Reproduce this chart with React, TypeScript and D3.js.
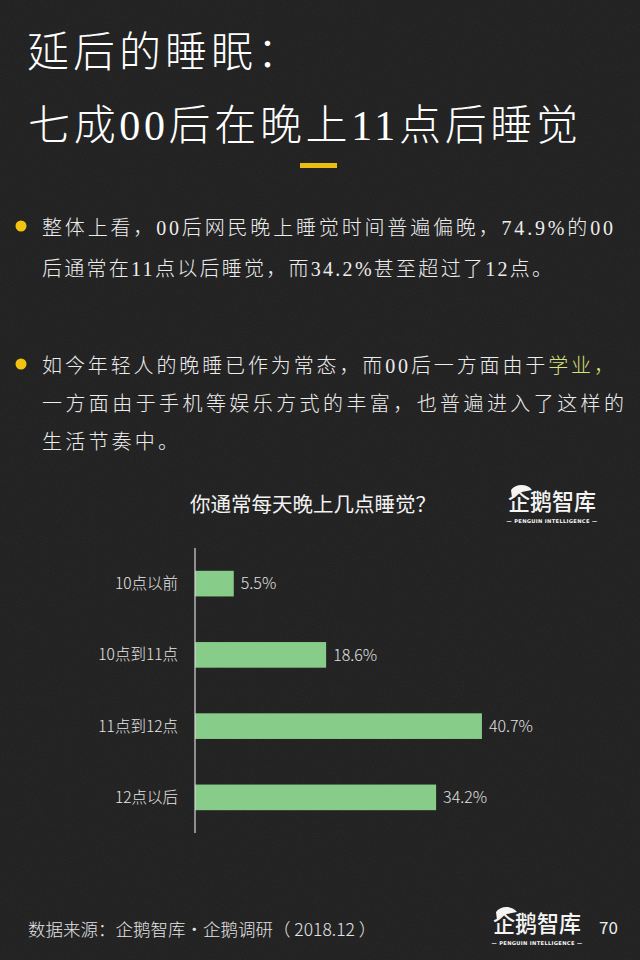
import React from 'react';
import * as d3 from 'd3';

// data
const categories = ['10点以前', '10点到11点', '11点到12点', '12点以后'];
const shares = [5.5, 18.6, 40.7, 34.2];

const titleLines = ['延后的睡眠：', '七成00后在晚上11点后睡觉'];
const bullet1 = ['整体上看，00后网民晚上睡觉时间普遍偏晚，74.9%的00', '后通常在11点以后睡觉，而34.2%甚至超过了12点。'];
const bullet2Head = '如今年轻人的晚睡已作为常态，而00后一方面由于';
const bullet2Hot = '学业，';
const bullet2Rest = ['一方面由于手机等娱乐方式的丰富，也普遍进入了这样的', '生活节奏中。'];
const chartTitle = '你通常每天晚上几点睡觉？';
const sourceText = '数据来源：企鹅智库·企鹅调研（ 2018.12 ）';
const pageNo = '70';

const W = 640;
const H = 960;
const CJK = '"Noto Sans CJK SC", "Noto Sans", sans-serif';
const SERIF = '"Liberation Serif", "DejaVu Serif", serif';

// split a string so latin digits get a serif face like the original
const mixed = (s: string) => {
  const parts = s.match(/[0-9.%]+|[^0-9.%]+/g) || [];
  return parts.map((p, i) =>
    /[0-9.%]/.test(p[0])
      ? <tspan key={i} fontFamily={SERIF}>{p}</tspan>
      : <tspan key={i}>{p}</tspan>
  );
};

const Logo: React.FC<{ x: number; y: number }> = ({ x, y }) => (
  <g transform={`translate(${x},${y})`} fill="#f4f4f4">
    <path d="M3,-20 C8,-27 20,-26 24,-20 L14,-18 C10,-17 6,-15 4,-12 Z" />
    <text x={0} y={0} fontFamily={CJK} fontSize={23} fontWeight={500} textLength={88} lengthAdjust="spacingAndGlyphs">企鹅智库</text>
    <text x={44} y={13} fontFamily='"DejaVu Sans", sans-serif' fontSize={5.2} fontWeight={700} textAnchor="middle" letterSpacing={0.3}>— PENGUIN  INTELLIGENCE —</text>
  </g>
);

const App: React.FC = () => {
  const y = d3.scaleBand<string>()
    .domain(categories)
    .range([548, 833])
    .paddingInner(0.64)
    .paddingOuter(0.32);

  const x = d3.scaleLinear().domain([0, 50]).range([195, 547.5]);

  return (
    <svg width={W} height={H} viewBox={`0 0 ${W} ${H}`} style={{ position: 'absolute', left: 0, top: 0 }}>
      <defs>
        <filter id="grain" x="0" y="0" width="100%" height="100%">
          <feTurbulence type="fractalNoise" baseFrequency="0.9" numOctaves={2} seed={3} result="n" />
          <feColorMatrix type="matrix" values="0 0 0 0 1  0 0 0 0 1  0 0 0 0 1  0 0 0 0.05 0" />
        </filter>
      </defs>
      <rect width={W} height={H} fill="#1e1e1e" />
      <rect width={W} height={H} filter="url(#grain)" />

      {/* headline */}
      <text x={27} y={67} fill="#ffffff" fontFamily={CJK} fontSize={42} fontWeight={300} letterSpacing={4}>{mixed(titleLines[0])}</text>
      <text x={28} y={140} fill="#ffffff" fontFamily={CJK} fontSize={42} fontWeight={300} textLength={550} lengthAdjust="spacing">{mixed(titleLines[1])}</text>
      <rect x={300} y={163} width={37} height={5} fill="#e9bf12" />

      {/* bullets */}
      <circle cx={21} cy={226} r={5.5} fill="#f2c40f" />
      <text x={42} y={235} fill="#ededed" fontFamily={CJK} fontSize={20} fontWeight={300} textLength={571} lengthAdjust="spacing">{mixed(bullet1[0])}</text>
      <text x={42} y={276} fill="#ededed" fontFamily={CJK} fontSize={20} fontWeight={300} textLength={510} lengthAdjust="spacing">{mixed(bullet1[1])}</text>

      <circle cx={21} cy={364} r={5.5} fill="#f2c40f" />
      <text x={42} y={373} fill="#ededed" fontFamily={CJK} fontSize={20} fontWeight={300} textLength={572} lengthAdjust="spacing">
        {mixed(bullet2Head)}<tspan fill="#d9e27c">{bullet2Hot}</tspan>
      </text>
      <text x={42} y={411} fill="#ededed" fontFamily={CJK} fontSize={20} fontWeight={300} textLength={582} lengthAdjust="spacing">{bullet2Rest[0]}</text>
      <text x={42} y={449} fill="#ededed" fontFamily={CJK} fontSize={20} fontWeight={300} letterSpacing={3.2}>{bullet2Rest[1]}</text>

      {/* chart header */}
      <text x={190} y={512} fill="#f2f2f2" fontFamily={CJK} fontSize={20.5} fontWeight={400}>{chartTitle}</text>
      <Logo x={508} y={510} />

      {/* bars */}
      <g>
        {categories.map((c, i) => (
          <g key={c}>
            <rect
              x={x(0)}
              y={y(c)!}
              width={x(shares[i]) - x(0)}
              height={y.bandwidth()}
              fill="#88cc8a"
            />
            <text
              x={178}
              y={y(c)! + y.bandwidth() / 2}
              dy="0.35em"
              textAnchor="end"
              fill="#e6e6e6"
              fontFamily={CJK}
              fontSize={15.5}
              fontWeight={300}
            >{c}</text>
            <text
              x={x(shares[i]) + 7}
              y={y(c)! + y.bandwidth() / 2}
              dy="0.36em"
              fill="#e0e0e0"
              fontFamily={CJK}
              fontSize={16}
              fontWeight={300}
            >{`${shares[i].toFixed(1)}%`}</text>
          </g>
        ))}
        <line x1={x(0)} x2={x(0)} y1={548} y2={833} stroke="#d8d8d8" strokeWidth={1.2} />
      </g>

      {/* footer */}
      <text x={28} y={936} fill="#e4e4e4" fontFamily={CJK} fontSize={17.5} fontWeight={300}>{sourceText}</text>
      <Logo x={493} y={932} />
      <text x={599} y={934} fill="#ececec" fontFamily={CJK} fontSize={17} fontWeight={400}>{pageNo}</text>
    </svg>
  );
};

export default App;
